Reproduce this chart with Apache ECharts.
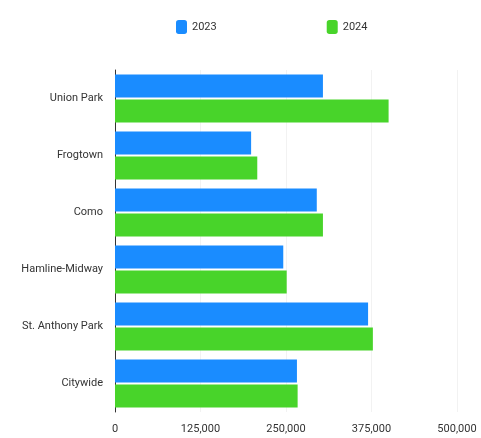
<!DOCTYPE html>
<html>
<head>
<meta charset="utf-8">
<script src="https://cdn.jsdelivr.net/npm/echarts@6/dist/echarts.min.js"></script>
<style>
  html, body { margin: 0; padding: 0; background: #fff; }
  #chart { width: 481px; height: 438px; }
</style>
</head>
<body>
<div id="chart"></div>
<script>
var neighborhoods = ['Union Park', 'Frogtown', 'Como', 'Hamline-Midway', 'St. Anthony Park', 'Citywide'];
var values2023 = [304000, 199000, 295000, 246000, 370000, 266000];
var values2024 = [400000, 208000, 304000, 251000, 377000, 267000];
var xTicks = [0, 125000, 250000, 375000, 500000];

var chart = echarts.init(document.getElementById('chart'));

var option = {
	animation: false,
	textStyle: { fontFamily: 'Roboto, "Noto Sans", sans-serif' },
	legend: {
		top: 15,
		left: 171,
		itemGap: 110,
		itemWidth: 11,
		itemHeight: 14,
		icon: 'roundRect',
		textStyle: { fontSize: 11, color: '#333' },
		data: ['2023', '2024']
	},
	grid: {
		left: 115,
		right: 24,
		top: 70,
		bottom: 26
	},
	xAxis: {
		type: 'value',
		min: xTicks[0],
		max: xTicks[xTicks.length - 1],
		interval: 125000,
		axisLine: { show: false },
		axisTick: { show: false },
		splitLine: { show: true, lineStyle: { color: '#f2f2f2' } },
		axisLabel: {
			fontSize: 11,
			color: '#333',
			margin: 12,
			formatter: function (v) { return v.toLocaleString('en-US'); }
		}
	},
	yAxis: {
		type: 'category',
		inverse: true,
		data: neighborhoods,
		axisLine: { show: true, lineStyle: { color: '#333' } },
		axisTick: { show: false },
		axisLabel: { fontSize: 11, color: '#333', margin: 12 }
	},
	series: [
		{
			name: '2023',
			type: 'bar',
			data: values2023,
			barGap: '8%',
			barCategoryGap: '16%',
			itemStyle: { color: '#1a8cff' }
		},
		{
			name: '2024',
			type: 'bar',
			data: values2024,
			itemStyle: { color: '#48d42a' }
		}
	]
};

chart.setOption(option);
</script>
</body>
</html>
